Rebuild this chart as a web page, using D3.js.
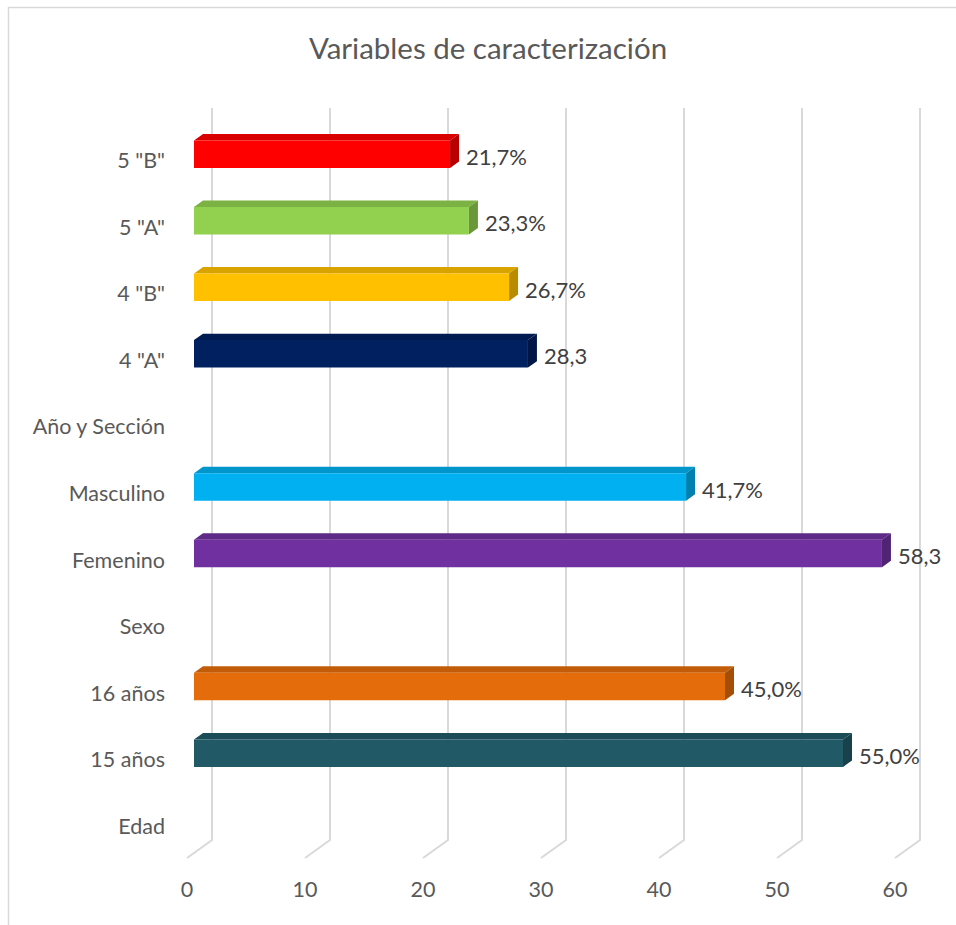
<!DOCTYPE html>
<html><head><meta charset="utf-8">
<script src="https://cdn.jsdelivr.net/npm/d3@7"></script>
<style>body{margin:0;background:#fff;}svg{display:block;}</style>
</head><body>
<svg id="c" width="956" height="925"></svg>
<script>
// Data (bottom to top order as in the chart)
const categories = ['Edad','15 años','16 años','Sexo','Femenino','Masculino','Año y Sección','4 "A"','4 "B"','5 "A"','5 "B"'];
const values = [null,55.0,45.0,null,58.3,41.7,null,28.3,26.7,23.3,21.7];
const valueLabels = ['','55,0%','45,0%','','58,3','41,7%','','28,3','26,7%','23,3%','21,7%'];
const barColors = [null,'#215967','#E46C0A',null,'#7030A0','#00B0F0',null,'#002060','#FFC000','#92D050','#FF0000'];
const tickValues = [0,10,20,30,40,50,60];
const title = 'Variables de caracterización';

const svg = d3.select('#c');
const FONT = 'Lato, "Open Sans", sans-serif';

// chart border
svg.append('rect').attr('x',8.5).attr('y',7.5).attr('width',960).attr('height',930)
  .attr('fill','#fff').attr('stroke','#d9d9d9').attr('stroke-width',1.5);

// projection parameters
const depthDX = 25, depthDY = -18;
const x = d3.scaleLinear().domain([0,60]).range([187,895]);
const y = d3.scaleBand().domain(categories.slice().reverse()).range([126,858]).padding(0);
const proj = (v, yy, z) => [x(v) + z*depthDX, yy + z*depthDY];

// gridlines on back wall + floor diagonals
const gTop = y.range()[0], gBot = y.range()[1];
tickValues.forEach(t => {
  const b0 = proj(t, gTop, 1), b1 = proj(t, gBot, 1), f1 = proj(t, gBot, 0);
  svg.append('path')
    .attr('d', `M${b0[0]},${b0[1]}L${b1[0]},${b1[1]}L${f1[0]},${f1[1]}`)
    .attr('fill','none').attr('stroke','#d9d9d9').attr('stroke-width',2);
});

// bars
const z0 = 0.28, z1 = 0.64;
const barH = 27.5;
categories.forEach((c,i) => {
  const v = values[i];
  if (v == null) return;
  const yc = y(c) + y.bandwidth()/2;
  const col = d3.color(barColors[i]);
  const g = svg.append('g');
  const A = proj(0, yc - barH/2, z0), B = proj(v, yc - barH/2, z0);
  const Bb = proj(v, yc + barH/2, z0), Ab = proj(0, yc + barH/2, z0);
  const A2 = proj(0, yc - barH/2, z1), B2 = proj(v, yc - barH/2, z1), Bb2 = proj(v, yc + barH/2, z1);
  // top face
  g.append('path').attr('d', `M${A[0]},${A[1]}L${A2[0]},${A2[1]}L${B2[0]},${B2[1]}L${B[0]},${B[1]}Z`)
    .attr('fill', col.darker(0.45));
  // side face
  g.append('path').attr('d', `M${B[0]},${B[1]}L${B2[0]},${B2[1]}L${Bb2[0]},${Bb2[1]}L${Bb[0]},${Bb[1]}Z`)
    .attr('fill', col.darker(0.9));
  // front face
  g.append('path').attr('d', `M${A[0]},${A[1]}L${B[0]},${B[1]}L${Bb[0]},${Bb[1]}L${Ab[0]},${Ab[1]}Z`)
    .attr('fill', col);
  // value label
  svg.append('text').attr('x', B2[0] + 7).attr('y', yc - 3)
    .attr('dominant-baseline','central')
    .attr('font-family', FONT).attr('font-size', 22).attr('fill','#404040')
    .text(valueLabels[i]);
});

// category labels
categories.forEach(c => {
  svg.append('text').attr('x',165).attr('y', y(c) + y.bandwidth()/2 + 1)
    .attr('text-anchor','end').attr('dominant-baseline','central')
    .attr('font-family', FONT).attr('font-size', 21.5).attr('fill','#595959')
    .text(c);
});

// tick labels
tickValues.forEach(t => {
  svg.append('text').attr('x', x(t)).attr('y', 889)
    .attr('text-anchor','middle').attr('dominant-baseline','central')
    .attr('font-family', FONT).attr('font-size', 21.5).attr('fill','#595959')
    .text(t);
});

// title
svg.append('text').attr('x',488).attr('y',47)
  .attr('text-anchor','middle').attr('dominant-baseline','central')
  .attr('font-family', FONT).attr('font-size', 29.5).attr('fill','#595959')
  .text(title);
</script>
</body></html>
